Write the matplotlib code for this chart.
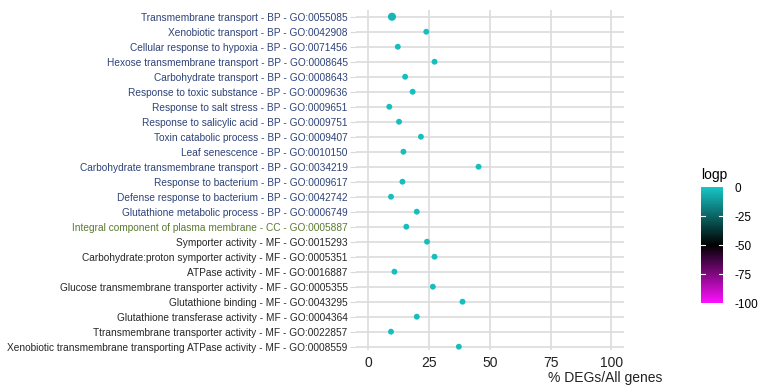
import matplotlib
matplotlib.use('Agg')
import matplotlib.pyplot as plt
from matplotlib.colors import LinearSegmentedColormap, Normalize
import matplotlib.colorbar as mcolorbar

plt.rcParams['axes.unicode_minus'] = False
plt.rcParams['font.family'] = ['Liberation Sans', 'DejaVu Sans']

terms = [
    "Transmembrane transport - BP - GO:0055085",
    "Xenobiotic transport - BP - GO:0042908",
    "Cellular response to hypoxia - BP - GO:0071456",
    "Hexose transmembrane transport - BP - GO:0008645",
    "Carbohydrate transport - BP - GO:0008643",
    "Response to toxic substance - BP - GO:0009636",
    "Response to salt stress - BP - GO:0009651",
    "Response to salicylic acid - BP - GO:0009751",
    "Toxin catabolic process - BP - GO:0009407",
    "Leaf senescence - BP - GO:0010150",
    "Carbohydrate transmembrane transport - BP - GO:0034219",
    "Response to bacterium - BP - GO:0009617",
    "Defense response to bacterium - BP - GO:0042742",
    "Glutathione metabolic process - BP - GO:0006749",
    "Integral component of plasma membrane - CC - GO:0005887",
    "Symporter activity - MF - GO:0015293",
    "Carbohydrate:proton symporter activity - MF - GO:0005351",
    "ATPase activity - MF - GO:0016887",
    "Glucose transmembrane transporter activity - MF - GO:0005355",
    "Glutathione binding - MF - GO:0043295",
    "Glutathione transferase activity - MF - GO:0004364",
    "Ttransmembrane transporter activity - MF - GO:0022857",
    "Xenobiotic transmembrane transporting ATPase activity - MF - GO:0008559",
]
pct_degs = [9.8, 23.9, 12.2, 27.3, 15.2, 18.3, 8.7, 12.7, 21.7, 14.5, 45.4, 14.1, 9.4,
            20.0, 15.7, 24.2, 27.3, 10.8, 26.6, 38.8, 20.0, 9.4, 37.3]
logp = [-4, -2, -2, -2, -2, -2, -2, -2, -2, -2, -2, -2, -2,
        -2, -2, -2, -2, -2, -2, -2, -2, -2, -2]
dot_size = [34, 18, 18, 18, 18, 18, 18, 18, 18, 18, 18, 18, 18,
            18, 18, 18, 18, 18, 18, 18, 18, 18, 18]
ontology_colors = {"BP": "#2e4379", "CC": "#5a7a2e", "MF": "#262626"}

cmap = LinearSegmentedColormap.from_list("logp", ["#ff10ff", "#000000", "#17c6c6"])
norm = Normalize(vmin=-100, vmax=0)

fig = plt.figure(figsize=(7.6, 3.89), dpi=100)
ax = fig.add_axes([0.4684, 0.1003, 0.352, 0.874])

ypos = list(range(len(terms)))
ax.scatter(pct_degs, ypos, c=logp, cmap=cmap, norm=norm, s=dot_size,
           edgecolors='none', zorder=3)

ax.set_xlim(-5, 105)
ax.set_ylim(22.22, -0.45)
ax.set_xticks([0, 25, 50, 75, 100])
ax.set_yticks(ypos)
ax.set_yticklabels(terms)
for lbl, t in zip(ax.get_yticklabels(), terms):
    lbl.set_color(ontology_colors[t.split(" - ")[-2]])
    lbl.set_fontsize(7.3)
for lbl in ax.get_xticklabels():
    lbl.set_fontsize(10)
    lbl.set_color('#222222')
ax.tick_params(axis='y', length=4, color='#d9d9d9', pad=2)
ax.tick_params(axis='x', length=0, pad=4)
ax.grid(True, color='#dcdcdc', linewidth=1.2)
ax.set_axisbelow(True)
for s in ax.spines.values():
    s.set_visible(False)

fig.text(0.872, 0.018, "% DEGs/All genes", fontsize=10, color='#222222', ha='right')

cax = fig.add_axes([0.922, 0.221, 0.0297, 0.298])
cb = mcolorbar.ColorbarBase(cax, cmap=cmap, norm=norm)
cb.outline.set_visible(False)
cb.set_ticks([0, -25, -50, -75, -100])
cax.tick_params(length=0, labelsize=8.5, pad=8)
for v in [-25, -50, -75]:
    cax.plot([0, 0.2], [v, v], color='white', lw=0.8)
    cax.plot([0.8, 1.0], [v, v], color='white', lw=0.8)
cax.set_xlim(0, 1)
cax.set_title("logp", fontsize=10, loc='left', pad=6)

fig.savefig("out.png", dpi=100)
